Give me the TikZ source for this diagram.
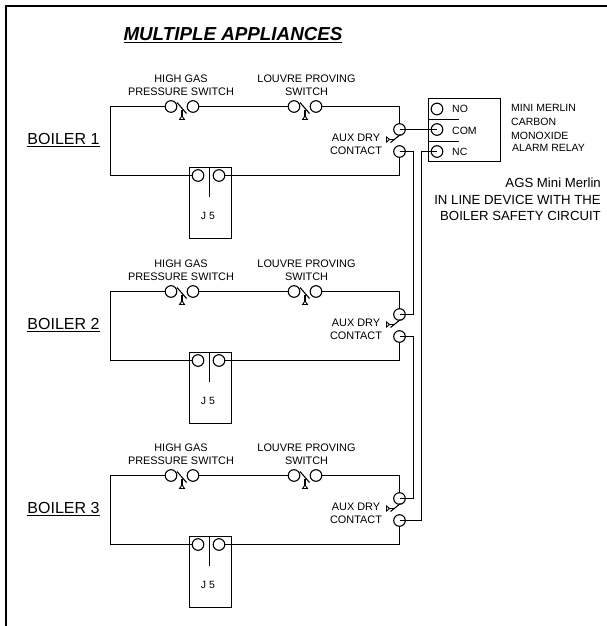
\documentclass[tikz,border=0pt]{standalone}
\usepackage{fontspec}
\setmainfont{Liberation Sans}

\tikzset{
  wire/.style={line width=1.1pt},
  term/.style={circle,draw,line width=1.1pt,inner sep=0pt,minimum size=11.6pt},
  small/.style={inner sep=0pt,align=center,font=\fontsize{10.9}{13}\selectfont},
  relay/.style={inner sep=0pt,anchor=west,font=\fontsize{10.5}{13}\selectfont}
}

\begin{document}
\begin{tikzpicture}[x=1pt,y=-1pt]
  \useasboundingbox (0,0) rectangle (607,626);

  % Page frame
  \draw [line width=2.6pt] (6,626) -- (6,6) -- (607,6);

  % Title
  \node [inner sep=0pt,font=\fontsize{18.8}{22}\selectfont\bfseries\itshape] (title) at (233,35) {\underline{MULTIPLE APPLIANCES}};

  % One circuit for each boiler
  \foreach \b/\dy in {1/0,2/185,3/369} {
    \begin{scope}[yshift=-\dy pt]
      % Terminals
      \node [term] (hga\b) at (171,106.5) {};
      \node [term] (hgb\b) at (193,106.5) {};
      \node [term] (lva\b) at (294,106.5) {};
      \node [term] (lvb\b) at (316,106.5) {};
      \node [term] (auxa\b) at (399.5,129.5) {};
      \node [term] (auxb\b) at (399.5,151.5) {};
      \node [term] (jl\b) at (198,175.5) {};
      \node [term] (jr\b) at (219,175.5) {};
      \coordinate (tl\b) at (110.5,106.5);
      \coordinate (bl\b) at (110.5,175.5);

      % Wiring
      \draw [wire] (hga\b) -- (tl\b) -- (bl\b) -- (jl\b);
      \draw [wire] (hgb\b) -- (lva\b);
      \draw [wire] (lvb\b) -| (auxa\b);
      \draw [wire] (jr\b) -| (auxb\b);

      % Jumper block
      \node [draw,line width=1.1pt,minimum width=42pt,minimum height=71pt,inner sep=0pt] (jbox\b) at (210.5,203) {};
      \coordinate (jtop\b) at (209.5,167.5);
      \coordinate (jend\b) at (209.5,197);
      \draw [wire] (jtop\b) -- (jend\b);
      \node [inner sep=0pt,font=\fontsize{10.5}{13}\selectfont] (jlab\b) at (208,216) {J 5};

      % Switch blades with their plungers
      \foreach \s in {hga,lva} {
        \draw [wire] ([shift={(6,-4)}]\s\b.center) -- ++(9.5,11);
        \draw [wire] ([shift={(11,3)}]\s\b.center) -- ++(0,7);
        \draw [line width=0.9pt] ([shift={(8.5,13)}]\s\b.center) -- ++(5,0) -- ++(-2.5,-3.5) -- cycle;
      }
      \draw [wire] ([shift={(1,5)}]auxa\b.center) -- ++(-10,8);
      \draw [wire] ([shift={(-5,10)}]auxa\b.center) -- ++(-5,0);
      \draw [line width=0.9pt] ([shift={(-13,7.5)}]auxa\b.center) -- ++(0,5) -- ++(3,-2.5) -- cycle;

      % Labels
      \node [inner sep=0pt,font=\fontsize{16}{18}\selectfont] (boiler\b) at (63.5,140) {\underline{BOILER \b}};
      \node [small] (hglab\b) at (181,85.5) {HIGH GAS\\PRESSURE SWITCH};
      \node [small] (lvlab\b) at (306.5,85.5) {LOUVRE PROVING\\SWITCH};
      \node [small] (auxlab\b) at (356,144.5) {AUX DRY\\CONTACT};
    \end{scope}
  }

  % Alarm relay
  \node [draw,line width=1.1pt,minimum width=72pt,minimum height=63pt,inner sep=0pt] (rbox) at (464.5,130) {};
  \node [term] (rno) at (437,109) {};
  \node [term] (rcom) at (437,129.5) {};
  \node [term] (rnc) at (437,151.5) {};
  \coordinate (rdiva) at (428.5,119.5);
  \coordinate (rdivb) at (459,119.5);
  \coordinate (rdivc) at (428.5,141.5);
  \coordinate (rdivd) at (459,141.5);
  \draw [wire] (rdiva) -- (rdivb);
  \draw [wire] (rdivc) -- (rdivd);
  \node [relay] (nolab) at (452,109) {NO};
  \node [relay] (comlab) at (452,131) {COM};
  \node [relay] (nclab) at (452,152) {NC};

  % Links from boiler to boiler
  \coordinate (busa) at (413.5,230);
  \coordinate (busb) at (413.5,420);
  \coordinate (busc) at (421.5,330);
  \draw [wire] (auxa1.center) -- (rcom.center);
  \draw [wire] (auxb1.center) -| (busa) |- (auxa2.center);
  \draw [wire] (auxb2.center) -| (busb) |- (auxa3.center);
  \draw [wire] (rnc.center) -| (busc) |- (auxb3.center);

  % Notes on the right
  \node [relay] (mma) at (511,108) {MINI MERLIN};
  \node [relay] (mmb) at (511,122) {CARBON};
  \node [relay] (mmc) at (511,136) {MONOXIDE};
  \node [relay] (mmd) at (512,148) {ALARM RELAY};
  \node [inner sep=0pt,anchor=east,align=right,font=\fontsize{13.2}{16.3}\selectfont] (note) at (601,199.5) {AGS Mini Merlin\\IN LINE DEVICE WITH THE\\BOILER SAFETY CIRCUIT};
\end{tikzpicture}
\end{document}
